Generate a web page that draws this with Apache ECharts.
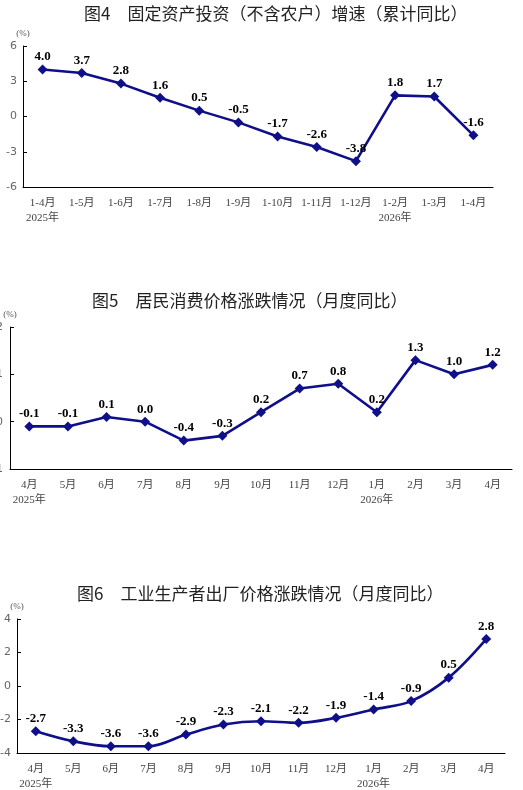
<!DOCTYPE html>
<html>
<head>
<meta charset="utf-8">
<script src="https://cdn.jsdelivr.net/npm/echarts@6/dist/echarts.min.js"></script>
<style>
  html, body { margin: 0; padding: 0; background: #fff; }
  #chart { width: 523px; height: 790px; }
</style>
</head>
<body>
<div id="chart"></div>
<script>
  // 图4 固定资产投资（不含农户）增速
  var fixedCats = ['1-4月', '1-5月', '1-6月', '1-7月', '1-8月', '1-9月', '1-10月', '1-11月', '1-12月', '1-2月', '1-3月', '1-4月']
  var fixedYears = ['2025年', '', '', '', '', '', '', '', '', '2026年', '', '']
  var fixedVals = [4.0, 3.7, 2.8, 1.6, 0.5, -0.5, -1.7, -2.6, -3.8, 1.8, 1.7, -1.6]
  var fixedTicks = [-6, 6, 3]

  // 图5 居民消费价格
  var cpiCats = ['4月', '5月', '6月', '7月', '8月', '9月', '10月', '11月', '12月', '1月', '2月', '3月', '4月']
  var cpiYears = ['2025年', '', '', '', '', '', '', '', '', '2026年', '', '', '']
  var cpiVals = [-0.1, -0.1, 0.1, 0.0, -0.4, -0.3, 0.2, 0.7, 0.8, 0.2, 1.3, 1.0, 1.2]
  var cpiTicks = [-1, 2, 1]

  // 图6 工业生产者出厂价格
  var ppiCats = ['4月', '5月', '6月', '7月', '8月', '9月', '10月', '11月', '12月', '1月', '2月', '3月', '4月']
  var ppiYears = ['2025年', '', '', '', '', '', '', '', '', '2026年', '', '', '']
  var ppiVals = [-2.7, -3.3, -3.6, -3.6, -2.9, -2.3, -2.1, -2.2, -1.9, -1.4, -0.9, 0.5, 2.8]
  var ppiTicks = [-4, 4, 2]

  var titles = [
    '图4　固定资产投资（不含农户）增速（累计同比）',
    '图5　居民消费价格涨跌情况（月度同比）',
    '图6　工业生产者出厂价格涨跌情况（月度同比）'
  ]

  var lineColor = '#0f0f8a'
  var serif = '"Liberation Serif", "Noto Sans CJK SC", serif'

  function makeX(idx, cats, years) {
    return {
      type: 'category',
      gridIndex: idx,
      data: cats,
      boundaryGap: true,
      axisLine: { onZero: false, lineStyle: { color: '#000', width: 1 } },
      axisTick: { inside: true, length: 5, lineStyle: { color: '#000' } },
      axisLabel: {
        interval: 0,
        margin: 9,
        color: '#444',
        fontSize: 11,
        fontFamily: serif,
        lineHeight: 15,
        formatter: function (value, index) {
          return years[index] ? value + '\n' + years[index] : value
        }
      },
      splitLine: { show: false }
    }
  }

  function makeY(idx, ticks, labelMargin) {
    return {
      type: 'value',
      gridIndex: idx,
      min: ticks[0],
      max: ticks[1],
      interval: ticks[2],
      name: '(%)',
      nameGap: 8,
      nameTextStyle: { color: '#555', fontSize: 9, fontFamily: serif, align: 'center' },
      axisLine: { show: true, onZero: false, lineStyle: { color: '#000', width: 1 } },
      axisTick: { show: true, inside: true, length: 4, lineStyle: { color: '#000' } },
      axisLabel: { color: '#666', fontSize: 11, margin: labelMargin, fontFamily: '"DejaVu Sans", sans-serif' },
      splitLine: { show: false }
    }
  }

  function makeSeries(idx, vals, smooth) {
    return {
      type: 'line',
      xAxisIndex: idx,
      yAxisIndex: idx,
      data: vals,
      smooth: smooth,
      symbol: 'diamond',
      symbolSize: 10,
      lineStyle: { color: lineColor, width: 2.6 },
      itemStyle: { color: lineColor },
      label: {
        show: true,
        position: 'top',
        distance: 1,
        color: '#000',
        fontSize: 13,
        fontWeight: 'bold',
        fontFamily: serif,
        formatter: function (p) {
          return p.value.toFixed(1)
        }
      }
    }
  }

  var titleStyle = { fontSize: 17, fontWeight: 'normal', color: '#222', fontFamily: '"Noto Sans CJK SC"' }

  var myChart = echarts.init(document.getElementById('chart'))
  myChart.setOption({
    animation: false,
    backgroundColor: '#fff',
    title: [
      { text: titles[0], left: 84, top: 5, padding: 0, textStyle: titleStyle },
      { text: titles[1], left: 92, top: 292, padding: 0, textStyle: titleStyle },
      { text: titles[2], left: 77, top: 585, padding: 0, textStyle: titleStyle }
    ],
    grid: [
      { left: 23, top: 46, width: 470, height: 141, outerBoundsMode: 'none' },
      { left: 10, top: 327, width: 502, height: 142, outerBoundsMode: 'none' },
      { left: 17, top: 619, width: 488, height: 134, outerBoundsMode: 'none' }
    ],
    xAxis: [
      makeX(0, fixedCats, fixedYears),
      makeX(1, cpiCats, cpiYears),
      makeX(2, ppiCats, ppiYears)
    ],
    yAxis: [
      makeY(0, fixedTicks, 6),
      makeY(1, cpiTicks, 7),
      makeY(2, ppiTicks, 6)
    ],
    series: [
      makeSeries(0, fixedVals, false),
      makeSeries(1, cpiVals, false),
      makeSeries(2, ppiVals, 0.35)
    ]
  })
</script>
</body>
</html>
